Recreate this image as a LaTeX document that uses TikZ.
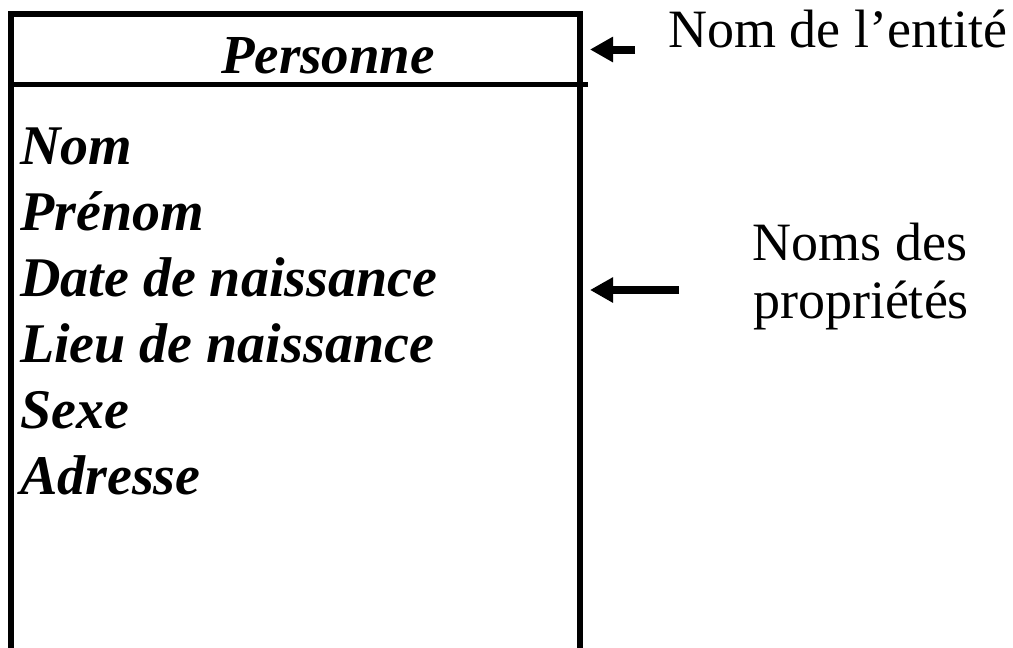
\documentclass[tikz,border=0pt]{standalone}
\usepackage{fontspec}
\setmainfont{Liberation Serif}
\usetikzlibrary{arrows.meta}
\tikzset{
  frame/.style={line width=6pt, line cap=rect},
  divider/.style={line width=5pt},
  entity/.style={font=\fontsize{55}{66}\selectfont\bfseries\itshape, inner sep=0pt, anchor=base},
  attr/.style={font=\fontsize{56}{66}\selectfont\bfseries\itshape, inner sep=0pt, anchor=base west},
  note/.style={font=\fontsize{54}{58}\selectfont, inner sep=0pt, anchor=base},
  pointer/.style={line width=8pt, -{Triangle[length=23pt,width=24pt]}}
}
\begin{document}
\begin{tikzpicture}[x=1pt,y=-1pt]
\useasboundingbox (0,0) rectangle (1013,648);
\clip (0,0) rectangle (1013,648);
% entity box
\draw[frame] (11,700) -- (11,13.5) -- (580,13.5) -- (580,700);
\draw[divider] (11,84.5) -- (588,84.5);
% title
\node[entity] (title) at (328,73) {Personne};
% attributes
\node[attr] (a1) at (20,164) {Nom};
\node[attr] (a2) at (20,230) {Prénom};
\node[attr] (a3) at (20,296) {Date de naissance};
\node[attr] (a4) at (20,362) {Lieu de naissance};
\node[attr] (a5) at (20,428) {Sexe};
\node[attr] (a6) at (20,494) {Adresse};
% labels
\node[note, anchor=base west] (lentity) at (668,47) {Nom de l’entité};
\node[note] (lprop1) at (860,260) {Noms des};
\node[note] (lprop2) at (861,318) {propriétés};
% pointers
\coordinate (p1s) at (635,49.5);
\coordinate (p1e) at (590,49.5);
\coordinate (p2s) at (679,290);
\coordinate (p2e) at (590,290);
\draw[pointer] (p1s) -- (p1e);
\draw[pointer] (p2s) -- (p2e);
\end{tikzpicture}
\end{document}
